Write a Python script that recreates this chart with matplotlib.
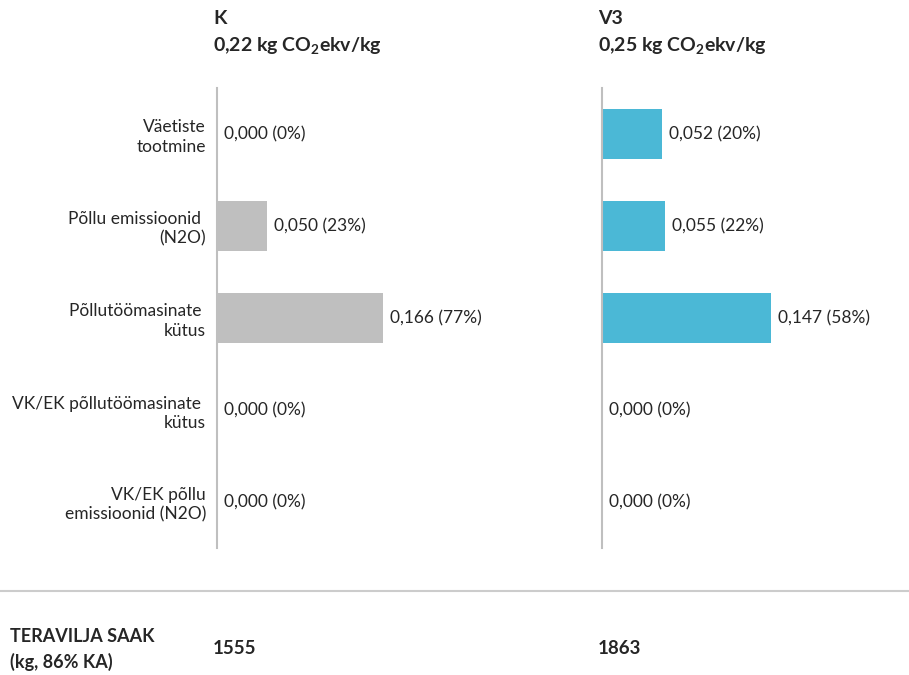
import matplotlib
matplotlib.use("Agg")
import matplotlib.pyplot as plt

plt.rcParams['font.family'] = ['Lato', 'DejaVu Sans']
plt.rcParams['mathtext.fontset'] = 'custom'
plt.rcParams['mathtext.rm'] = 'Lato'
plt.rcParams['mathtext.bf'] = 'Lato:bold'

# emission sources and values (kg CO2ekv per kg grain)
categories = ['Väetiste\ntootmine', 'Põllu emissioonid \n(N2O)', 'Põllutöömasinate \nkütus',
              'VK/EK põllutöömasinate \nkütus', 'VK/EK põllu\nemissioonid (N2O)']
k_values = [0.000, 0.050, 0.166, 0.000, 0.000]
k_shares = [0, 23, 77, 0, 0]
v3_values = [0.052, 0.055, 0.147, 0.000, 0.000]
v3_shares = [20, 22, 58, 0, 0]

panel_names = ['K', 'V3']
panel_totals = ['0,22', '0,25']
yields = [1555, 1863]

W, H = 909, 675
fig = plt.figure(figsize=(W / 100, H / 100), dpi=100)

def px(x, y):
    return x / W, 1 - y / H

grey_line = '#bfbfbf'
text_col = '#262626'
panels = [
    (217, 343, 0.343, k_values, k_shares, '#bfbfbf', True),
    (602, 298, 0.259, v3_values, v3_shares, '#4bb8d6', False),
]

for i, (x0, width, xmax, vals, shares, color, show_labels) in enumerate(panels):
    ax = fig.add_axes([x0 / W, (H - 548) / H, width / W, 460 / H])
    ypos = range(len(categories))
    ax.barh(ypos, vals, height=0.55, color=color)
    ax.set_xlim(0, xmax)
    ax.set_ylim(len(categories) - 0.5, -0.5)
    for s in ['top', 'right', 'bottom']:
        ax.spines[s].set_visible(False)
    ax.spines['left'].set_color(grey_line)
    ax.spines['left'].set_linewidth(1.5)
    ax.set_xticks([])
    ax.set_yticks(list(ypos))
    ax.tick_params(axis='y', length=0, pad=8)
    if show_labels:
        ax.set_yticklabels(categories, fontsize=12.5, color=text_col, ha='right',
                           multialignment='right', linespacing=1.25)
    else:
        ax.set_yticklabels([])
    for y, v, p in zip(ypos, vals, shares):
        label = f'{v:.3f}'.replace('.', ',') + f' ({p}%)'
        ax.annotate(label, (v, y), xytext=(5, 0), textcoords='offset points',
                    va='center', ha='left', fontsize=12.5, color=text_col)

    # panel heading
    tx, ty = px(x0 - 4, 18)
    fig.text(tx, ty, panel_names[i], fontsize=14, fontweight='bold', color=text_col, va='center')
    tx, ty = px(x0 - 4, 46)
    fig.text(tx, ty, panel_totals[i] + r' kg CO$_\mathbf{2}$ekv/kg', fontsize=14,
             fontweight='bold', color=text_col, va='center')

    # yield under the panel
    tx, ty = px(x0 - 4, 649)
    fig.text(tx, ty, str(yields[i]), fontsize=13.5, fontweight='bold', color=text_col, va='center')

# separator line across the figure
fig.add_artist(plt.Line2D([0, 1], [1 - 591 / H] * 2, color='#cccccc', linewidth=1.5))

tx, ty = px(10, 637)
fig.text(tx, ty, 'TERAVILJA SAAK', fontsize=13, fontweight='bold', color=text_col, va='center')
tx, ty = px(10, 662)
fig.text(tx, ty, '(kg, 86% KA)', fontsize=13, fontweight='bold', color=text_col, va='center')

fig.savefig('out.png', dpi=100, facecolor='white')
